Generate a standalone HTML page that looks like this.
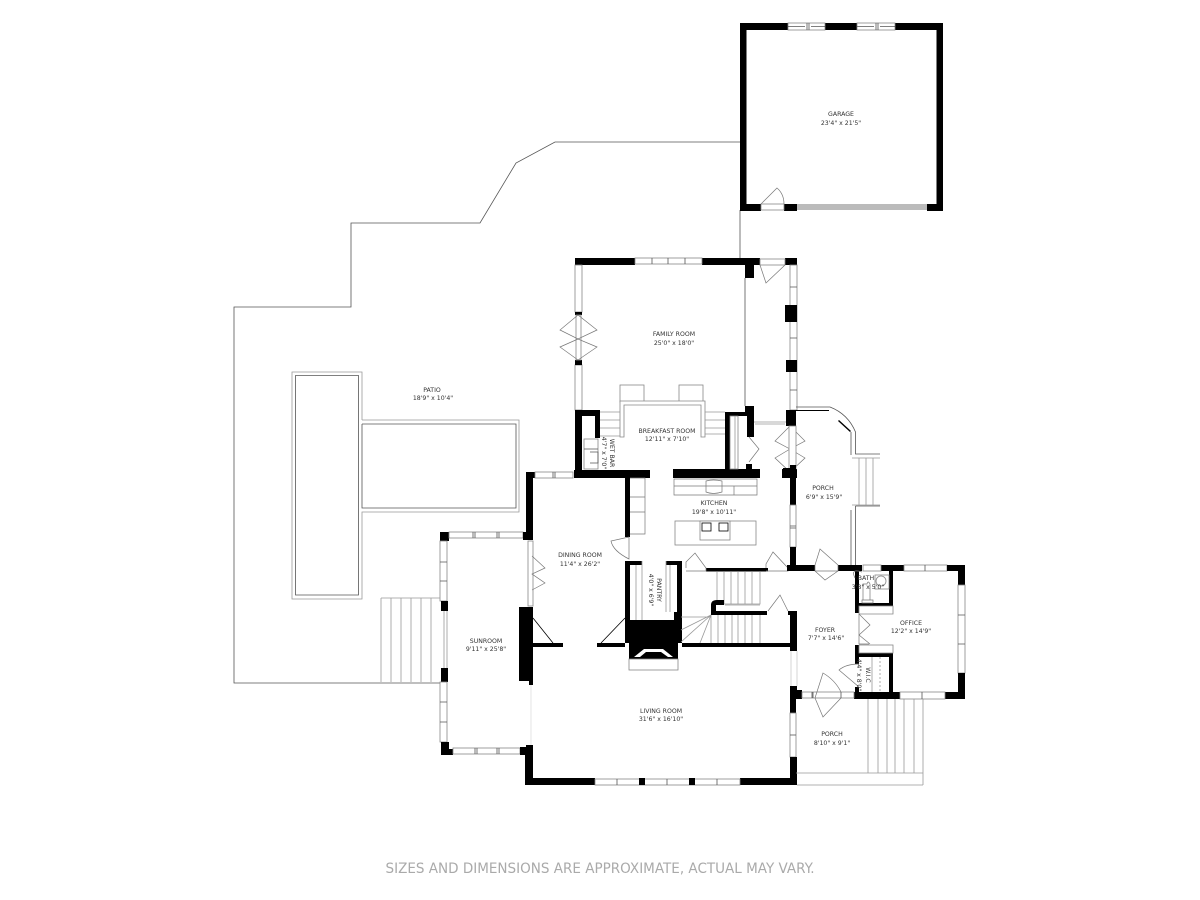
<!DOCTYPE html>
<html><head><meta charset="utf-8"><style>
html,body{margin:0;padding:0;background:#fff}
svg{display:block;filter:blur(.3px)}
text{font-family:"DejaVu Sans","Liberation Sans",sans-serif;font-size:6.2px;fill:#333;text-anchor:middle}
.b{fill:#000}
.l{fill:none;stroke:#555;stroke-width:.8}
.g{fill:none;stroke:#999;stroke-width:.8}
.d{fill:none;stroke:#777;stroke-width:.7}
.w{fill:#fff;stroke:#888;stroke-width:.8}
</style></head><body>
<svg width="1200" height="900" viewBox="0 0 1200 900" xmlns="http://www.w3.org/2000/svg">
<rect width="1200" height="900" fill="#fff"/>

<!-- patio outline -->
<path class="l" d="M440 683H234V307H351V223H480L516 163L555 142H740"/>
<path class="l" d="M740 210V258"/>

<!-- pool -->
<path class="g" d="M362 420V372H292V599H362V512H519V420H362"/>
<path class="l" d="M358.500 420V375.500H295.500V595H358.500V420M362 424H516V508H362V424"/>

<!-- garage -->
<path class="b" d="M740 23H943V211H927V204H936.500V30H746.500V204H761V211H740Z"/>
<rect class="b" x="784" y="204" width="13" height="7"/>
<rect class="w" x="788" y="23" width="37" height="7"/><rect class="w" x="857" y="23" width="38" height="7"/>
<path class="l" d="M807 23V30M809 23V30M876 23V30M878 23V30M788 26.500H805M811 26.500H825M857 26.500H874M880 26.500H895"/>
<rect fill="#bbb" x="797" y="204" width="130" height="6"/>
<rect class="w" x="761" y="204" width="23" height="6"/>
<path class="d" d="M761 204L777 188Q784 194 784 204"/>

<!-- family room walls -->
<path class="b" d="M575 258H635V265H582V312H575Z"/>
<rect class="b" x="702" y="258" width="58" height="7"/>
<rect class="b" x="745" y="265" width="9" height="13"/>
<rect class="b" x="785" y="258" width="12" height="7"/>
<rect class="w" x="635" y="258" width="67" height="6"/>
<path class="l" d="M652 258V264M668 258V264M685 258V264"/>
<rect class="w" x="760" y="259" width="25" height="6"/>
<path class="d" d="M760 265L766 283L785 265"/>
<rect class="w" x="575" y="265" width="7" height="47"/><rect class="w" x="575" y="365" width="7" height="45"/>
<rect class="b" x="575" y="312" width="7" height="3"/><rect class="b" x="575" y="360" width="7" height="5"/>
<rect class="w" x="576" y="315" width="5" height="45"/>
<path class="d" d="M578 315L560 330L578 339L597 330ZM578 339L560 347L578 360L597 347Z"/>
<path class="l" d="M745 278V406"/>
<rect class="w" x="790" y="265" width="7" height="145"/>
<path class="l" d="M790 287H797M790 338H797M790 390H797"/>
<rect class="b" x="785" y="305" width="12" height="17"/><rect class="b" x="786" y="360" width="11" height="12"/>

<!-- chairs and table -->
<rect class="w" x="620" y="385" width="24" height="17"/><rect class="w" x="679" y="385" width="24" height="17"/>
<path class="w" d="M620 437V401H705V437H701V405H624V437Z"/>
<path class="g" d="M600 412H620M600 420H620M600 428H620M600 436H620M705 412H725M705 420H725M705 428H725M705 434H725"/>

<!-- breakfast / wet bar walls -->
<path class="b" d="M575 410H600V438H595V416H582V470H650V478H574V470H575Z"/>
<rect class="b" x="673" y="469" width="87" height="9"/>
<path class="b" d="M725 412H745V406H754V437H747V416H730V469H725Z"/>
<rect class="w" x="730" y="416" width="8" height="53"/>
<path class="g" d="M735 416V469"/>
<rect class="w" x="584" y="439" width="14" height="30"/><path class="l" d="M584 449H598M590 452H598V463H590"/>
<rect x="746" y="464" width="6" height="5" class="b"/>
<rect class="b" x="782" y="469" width="15" height="9"/>
<rect class="b" x="786" y="410" width="10" height="16"/>
<path class="g" d="M754 422H786M755 424H785"/>
<path class="d" d="M749 437L759 449L749 462M790 426L775 441L790 449L805 441L790 426M790 449L775 458L790 472L805 458L790 449"/>
<rect class="w" x="789" y="426" width="7" height="43"/>

<!-- dining -->
<path class="b" d="M526 472H535V478H533V540H526Z"/>
<rect class="w" x="535" y="472" width="38" height="6"/><path class="l" d="M553 472V478M555 472V478"/>
<rect class="b" x="625" y="478" width="5" height="59"/>
<path class="d" d="M629 537L611 541Q613 551 629 559V537"/>
<path class="b" d="M533 643H563V647H533ZM597 643H625V647H597Z"/>
<path class="l" d="M533 618L553 643M625 618L601 643" style="stroke:#000"/>

<!-- sunroom -->
<rect class="b" x="440" y="532" width="9" height="9"/>
<rect class="w" x="449" y="532" width="74" height="6"/><path class="l" d="M473 532V538M475 532V538M497 532V538M499 532V538"/>
<rect class="b" x="523" y="532" width="10" height="8"/>
<rect class="w" x="440" y="541" width="7" height="60"/><path class="l" d="M440 562H447M440 581H447"/>
<rect class="b" x="441" y="601" width="7" height="10"/><rect class="b" x="441" y="668" width="7" height="14"/>
<path class="g" d="M444 611V668M447 611V668"/>
<rect class="w" x="440" y="682" width="7" height="60"/><path class="l" d="M440 702H447M440 722H447"/>
<path class="b" d="M441 742H449V749H453V755H441Z"/>
<rect class="w" x="453" y="748" width="67" height="6"/><path class="l" d="M475 748V754M477 748V754M497 748V754M499 748V754"/>
<path class="b" d="M520 747H526V745H533V778H595V785H525V755H520Z"/>
<rect class="w" x="528" y="541" width="5" height="65"/>
<path class="d" d="M532 556L545 568L532 574L545 583L532 590"/>
<rect class="b" x="519" y="607" width="14" height="74"/><rect class="b" x="529" y="681" width="4" height="4"/>
<path class="g" d="M531 685V745" style="stroke:#ddd"/>
<path class="g" d="M381 598H440M381 598V682M391 598V682M401 598V682M411 598V682M421 598V682M431 598V682"/>

<!-- pantry, fireplace -->
<path class="b" d="M625 561H642V565H630V620H674V612H677V565H666V561H682V643H678V659H629V643H625Z"/>
<path class="g" d="M642 561V620M666 561V612M636 565V620M670 565V612"/>
<path d="M634 657L644 649H663L673 657H668L661 652H646L640 657Z" fill="#fff"/>
<rect class="w" x="629" y="659" width="49" height="11"/>

<!-- kitchen -->
<path class="d" d="M674 479H757V495H674ZM674 486H757M734 486V495M706 481Q713 479 722 481V492Q713 495 706 492Z"/>
<path class="d" d="M630 478H645V534H630M630 497H645M630 512H645"/>
<rect class="w" x="675" y="521" width="81" height="24"/>
<rect class="w" x="700" y="521" width="30" height="19"/>
<rect class="w" x="702" y="523" width="9" height="8" style="stroke:#000"/><rect class="w" x="719" y="523" width="9" height="8" style="stroke:#000"/>
<rect class="b" x="706" y="568" width="62" height="3.500"/>
<path class="d" d="M686 568V562L695 553L706 568V571H686M766 568V564L773 552L788 568V571H766"/>

<!-- foyer / stair -->
<path class="g" d="M717 572V604H760V572M724 572V604M731 572V604M738 572V604M745 572V604M752 572V604"/>
<path class="b" d="M711 615V605Q711 600 717 600H724V605H716V611H767V615Z"/>
<path class="g" d="M725 605H760"/>
<path class="g" d="M681 617H711M681 630L711 615M681 642L711 615M700 643L711 615M711 615V643M718 615V643M725 615V643M732 615V643M738 615V643M745 615V643M752 615V643M760 615V643"/>
<rect class="b" x="682" y="643" width="115" height="4"/>
<path class="d" d="M768 611L780 595L788 611"/>
<path class="b" d="M788 611H797V643H790V615H788ZM790 643H797V651H790Z"/>
<path class="g" d="M791 651V686M797 651V686" style="stroke:#ccc"/>

<!-- main right wall of kitchen -->
<rect class="b" x="790" y="465" width="6" height="40"/><rect class="b" x="783" y="468" width="7" height="10"/>
<rect class="w" x="790" y="505" width="6" height="42"/><path class="l" d="M790 526H796M790 528H796"/>
<rect class="b" x="790" y="547" width="6" height="24"/>
<path class="b" d="M787 565H815V571H787ZM838 565H862V571H838ZM881 565H904V571H881Z"/>
<path class="d" d="M815 571V565L820 549L838 565V571ZM815 571L825 580L838 571"/>
<rect class="w" x="863" y="565" width="18" height="6"/>
<rect class="w" x="904" y="565" width="43" height="6"/><path class="l" d="M925 565V571"/>
<path class="b" d="M947 565H965V585H958V571H947Z"/>
<rect class="w" x="958" y="585" width="7" height="88"/><path class="l" d="M958 615H965M958 644H965"/>
<path class="b" d="M958 673H965V699H945V692H958Z"/>

<!-- porch -->
<path class="l" d="M796 407H830Q848 414 855.500 432V454H880M851 565V510M855.500 506H880M855.500 506V565M851 432V455"/>
<path class="b" d="M796 410H829L829 411H796ZM839 420L851 431L850 432L838 421Z"/>
<path class="g" d="M852 458H880M852 505H880M859 458V505M866 458V505M873 458V505"/>

<!-- bath / closets -->
<path class="b" d="M855 565H859V603H889V571H893V606H859V613H855Z"/>
<path class="w" d="M859 606H893V614H859Z"/>
<path class="d" d="M859 614V644M859 614L870 625L859 635L870 644M859 644H869"/>
<path class="b" d="M855 645H859V653H893V699H854V692H859V687H855V692H859V657H855V664H855ZM859 692H889V657H859Z" fill-rule="evenodd" style="display:none"/>
<rect class="b" x="855" y="645" width="4" height="19"/>
<rect class="b" x="855" y="687" width="4" height="12"/>
<rect class="b" x="859" y="653" width="34" height="4"/>
<rect class="b" x="889" y="653" width="4" height="46"/>
<rect class="b" x="854" y="692" width="46" height="7"/>
<rect class="w" x="859" y="645" width="34" height="8"/>
<rect class="w" x="875" y="575" width="14" height="14" style="fill:#fff"/>
<circle class="w" cx="881" cy="581" r="5"/>
<path class="d" d="M867 584Q868 580 870 584V600H863V584ZM862 600H873V603H862ZM855 578Q850 568 862 572"/>
<path class="g" d="M872 657V692"/><path class="g" d="M880 657V692" style="stroke-dasharray:2 2"/>
<path class="d" d="M859 687L839 670Q846 664 859 664"/>
<rect class="w" x="900" y="692" width="45" height="7"/><path class="l" d="M922 692V699"/>

<!-- foyer front door -->
<path class="b" d="M790 686H797V690H802V699H796V713H790Z"/>
<rect class="w" x="802" y="692" width="52" height="6"/>
<path class="l" d="M813 692V698M812 692V698M841 692V698"/>
<path class="d" d="M815 698L823 673Q835 680 841 692M815 698L823 717L841 698"/>

<!-- living room -->
<rect class="w" x="790" y="713" width="6" height="44"/><path class="l" d="M790 735H796"/>
<rect class="b" x="790" y="757" width="7" height="28"/>
<rect class="b" x="740" y="778" width="57" height="7"/>
<rect class="w" x="595" y="779" width="145" height="6"/>
<rect class="b" x="639" y="778" width="6" height="7"/><rect class="b" x="689" y="778" width="6" height="7"/>
<path class="l" d="M617 779V785M667 779V785M717 779V785"/>

<!-- porch south -->
<path class="g" d="M796 773H923V785M797 785H923M868 699V773M878 699V773M887 699V773M895 699V773M904 699V773M914 699V773M923 699V773"/>

<!-- labels -->
<text x="841" y="116">GARAGE</text><text x="841" y="125">23'4" x 21'5"</text>
<text x="674" y="336">FAMILY ROOM</text><text x="674" y="345">25'0" x 18'0"</text>
<text x="667" y="433">BREAKFAST ROOM</text><text x="667" y="441">12'11" x 7'10"</text>
<text x="432" y="392">PATIO</text><text x="433" y="400">18'9" x 10'4"</text>
<text x="714" y="505">KITCHEN</text><text x="714" y="514">19'8" x 10'11"</text>
<text x="580" y="557">DINING ROOM</text><text x="580" y="566">11'4" x 26'2"</text>
<text x="823" y="490">PORCH</text><text x="824" y="499">6'9" x 15'9"</text>
<text x="486" y="643">SUNROOM</text><text x="486" y="651">9'11" x 25'8"</text>
<text x="825" y="632">FOYER</text><text x="826" y="640">7'7" x 14'6"</text>
<text x="911" y="625">OFFICE</text><text x="911" y="633">12'2" x 14'9"</text>
<text x="661" y="713">LIVING ROOM</text><text x="661" y="721">31'6" x 16'10"</text>
<text x="832" y="736">PORCH</text><text x="832" y="745">8'10" x 9'1"</text>
<text x="866" y="580">BATH</text><text x="868" y="589">3'8" x 5'0"</text>
<text transform="translate(610 453) rotate(90)">WET BAR</text>
<text transform="translate(602 453) rotate(90)">4'7" x 7'0"</text>
<text transform="translate(657 590) rotate(90)">PANTRY</text>
<text transform="translate(649 590) rotate(90)">4'0" x 6'9"</text>
<text transform="translate(866 675) rotate(90)">W.I.C</text>
<text transform="translate(857 675) rotate(90)">4'4" x 8'0"</text>

<text x="600" y="873" textLength="429" lengthAdjust="spacingAndGlyphs" style="font-size:14px;fill:#aaa">SIZES AND DIMENSIONS ARE APPROXIMATE, ACTUAL MAY VARY.</text>
</svg>
</body></html>
